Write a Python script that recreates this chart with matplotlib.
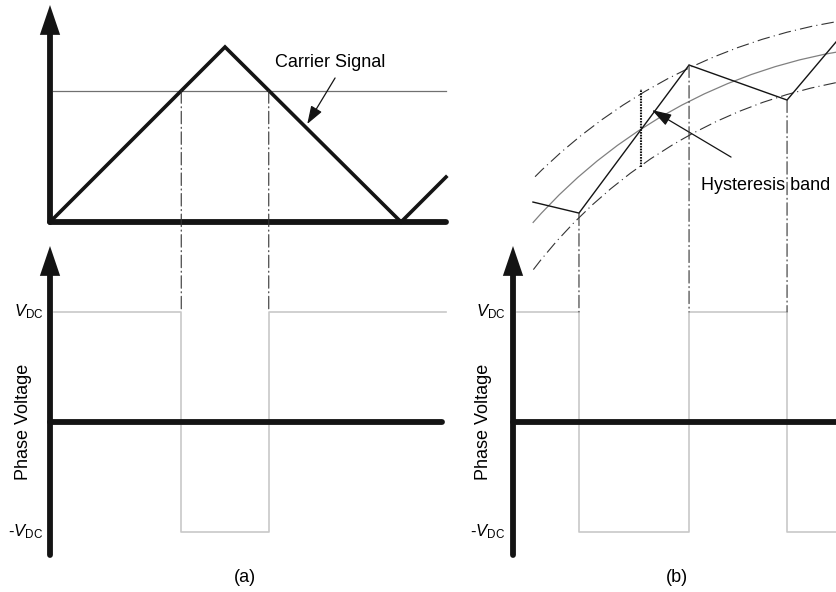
import matplotlib
matplotlib.use('Agg')
import matplotlib.pyplot as plt
from matplotlib.patches import Arc, ConnectionPatch

plt.rcParams['font.family'] = ['Liberation Sans', 'DejaVu Sans']
plt.rcParams['mathtext.fontset'] = 'custom'
plt.rcParams['mathtext.rm'] = 'Liberation Sans'
plt.rcParams['mathtext.it'] = 'Liberation Sans:italic'
plt.rcParams['lines.scale_dashes'] = False

# --- data (time in carrier periods/2, carrier & current in p.u., voltage in V_DC) ---
# (a) carrier based PWM
carrier_t = [0.0, 1.0, 2.006, 2.263]
carrier_v = [0.0, 1.0, 0.0, 0.257]
ref_level = 0.75
ref_span = [0.017, 2.263]
switch_a = [0.75, 1.25]
wave_a_t = [0.023, 0.75, 1.25, 2.263]
wave_a_v = [1, -1, 1, 1]

# (b) hysteresis control
band_center = (2.371, -1.989)
band_radius = [3.177, 3.006, 2.834]          # upper, reference, lower
band_start = [135.3, 138.7, 142.8]           # degrees, arcs start at left edge
current_t = [0.114, 0.377, 1.006, 1.566, 1.846]
current_i = [0.114, 0.051, 0.897, 0.697, 1.029]
switch_b = [0.377, 1.006, 1.566]
wave_b_t = [0.023, 0.377, 1.006, 1.566, 1.846]
wave_b_v = [1, -1, 1, -1, -1]
band_marker_t = 0.731
band_marker_i = [0.314, 0.760]

W, H = 836, 592
fig = plt.figure(figsize=(W / 100, H / 100), dpi=100)

DARK = '#141414'
WAVE = '#c8c8c8'
DASHDOT = (0, (9, 2.5, 0.8, 2.5))


def panel(x0, y0, sx, sy):
    # full-figure axes, origin at pixel (x0, y0)
    ax = fig.add_axes([0, 0, 1, 1])
    ax.set_xlim(-x0 / sx, (W - x0) / sx)
    ax.set_ylim((y0 - H) / sy, y0 / sy)
    ax.axis('off')
    return ax


def axis_arrow(ax, y_bottom, y_tip, head_len):
    ax.plot([0, 0], [y_bottom, y_tip - head_len * 0.8], color=DARK, lw=4.2,
            solid_capstyle='round')
    ax.annotate('', xy=(0, y_tip), xytext=(0, y_bottom),
                arrowprops=dict(arrowstyle='-|>,head_length=21.5,head_width=7.3',
                                mutation_scale=1, lw=0, color=DARK,
                                shrinkA=0, shrinkB=0))


a_top = panel(50, 222, 175, 175)
a_bot = panel(50, 422, 175, 110)
b_top = panel(513, 222, 175, 175)
b_bot = panel(513, 422, 175, 110)

# ---------- (a) top: carrier ----------
a_top.plot(ref_span, [ref_level, ref_level], color='#707070', lw=0.9)
a_top.plot(carrier_t, carrier_v, color=DARK, lw=2.6, solid_joinstyle='miter')
a_top.plot([0, 2.263], [0, 0], color=DARK, lw=4.2, solid_capstyle='round')
axis_arrow(a_top, 0, 1.24, 30 / 175)
a_top.text(1.286, 0.909, 'Carrier Signal', fontsize=13, va='center', ha='left')
a_top.annotate('', xy=(1.47, 0.56), xytext=(1.629, 0.823),
               arrowprops=dict(arrowstyle='-|>,head_length=11,head_width=3.8',
                               mutation_scale=1, lw=0.9, color=DARK,
                               shrinkA=0, shrinkB=0))

# ---------- (a) bottom: phase voltage ----------
a_bot.plot(wave_a_t, wave_a_v, drawstyle='steps-post', color=WAVE, lw=1.2)
a_bot.plot([0, 2.24], [0, 0], color=DARK, lw=4.2, solid_capstyle='round')
axis_arrow(a_bot, -1.209, 1.6, 30 / 110)

for t in switch_a:
    fig.add_artist(ConnectionPatch(xyA=(t, ref_level), coordsA=a_top.transData,
                                   xyB=(t, 1), coordsB=a_bot.transData,
                                   color='#333333', lw=0.8, linestyle=DASHDOT))

# ---------- (b) top: hysteresis band ----------
styles = [dict(color='#333333', lw=0.8, linestyle=(0, (9, 3, 0.8, 3))),
          dict(color='#808080', lw=0.9, linestyle='-'),
          dict(color='#333333', lw=0.8, linestyle=(0, (9, 3, 0.8, 3)))]
for r, start, st in zip(band_radius, band_start, styles):
    b_top.add_patch(Arc(band_center, 2 * r, 2 * r, theta1=50, theta2=start, **st))

b_top.plot(current_t, current_i, color=DARK, lw=1.0, solid_joinstyle='miter')
b_top.plot([band_marker_t, band_marker_t], band_marker_i, color=DARK, lw=1.5,
           linestyle=(0, (1.2, 0.8)))
b_top.text(1.074, 0.211, 'Hysteresis band', fontsize=13, va='center', ha='left')
b_top.annotate('', xy=(0.794, 0.64), xytext=(1.246, 0.371),
               arrowprops=dict(arrowstyle='-|>,head_length=12,head_width=3.8',
                               mutation_scale=1, lw=0.9, color=DARK,
                               shrinkA=0, shrinkB=0))

# ---------- (b) bottom: phase voltage ----------
b_bot.plot(wave_b_t, wave_b_v, drawstyle='steps-post', color=WAVE, lw=1.2)
b_bot.plot([0, 2.0], [0, 0], color=DARK, lw=4.2, solid_capstyle='round')
axis_arrow(b_bot, -1.209, 1.6, 30 / 110)

for t, i in zip(current_t[1:4], current_i[1:4]):
    fig.add_artist(ConnectionPatch(xyA=(t, i), coordsA=b_top.transData,
                                   xyB=(t, 1), coordsB=b_bot.transData,
                                   color='#333333', lw=0.8, linestyle=DASHDOT))

# ---------- labels ----------
for ax, xl, xp in [(a_bot, -0.04, -0.154), (b_bot, -0.046, -0.166)]:
    ax.text(xl, 1, r'$V_{\mathrm{DC}}$', fontsize=12, ha='right', va='center')
    ax.text(xl, -1, r'-$V_{\mathrm{DC}}$', fontsize=12, ha='right', va='center')
    ax.text(xp, 0, 'Phase Voltage', fontsize=13, rotation=90,
            ha='center', va='center')

fig.text(245 / W, 1 - 578 / H, '(a)', fontsize=13, ha='center', va='center')
fig.text(677 / W, 1 - 578 / H, '(b)', fontsize=13, ha='center', va='center')

fig.savefig('out.png', dpi=100)
